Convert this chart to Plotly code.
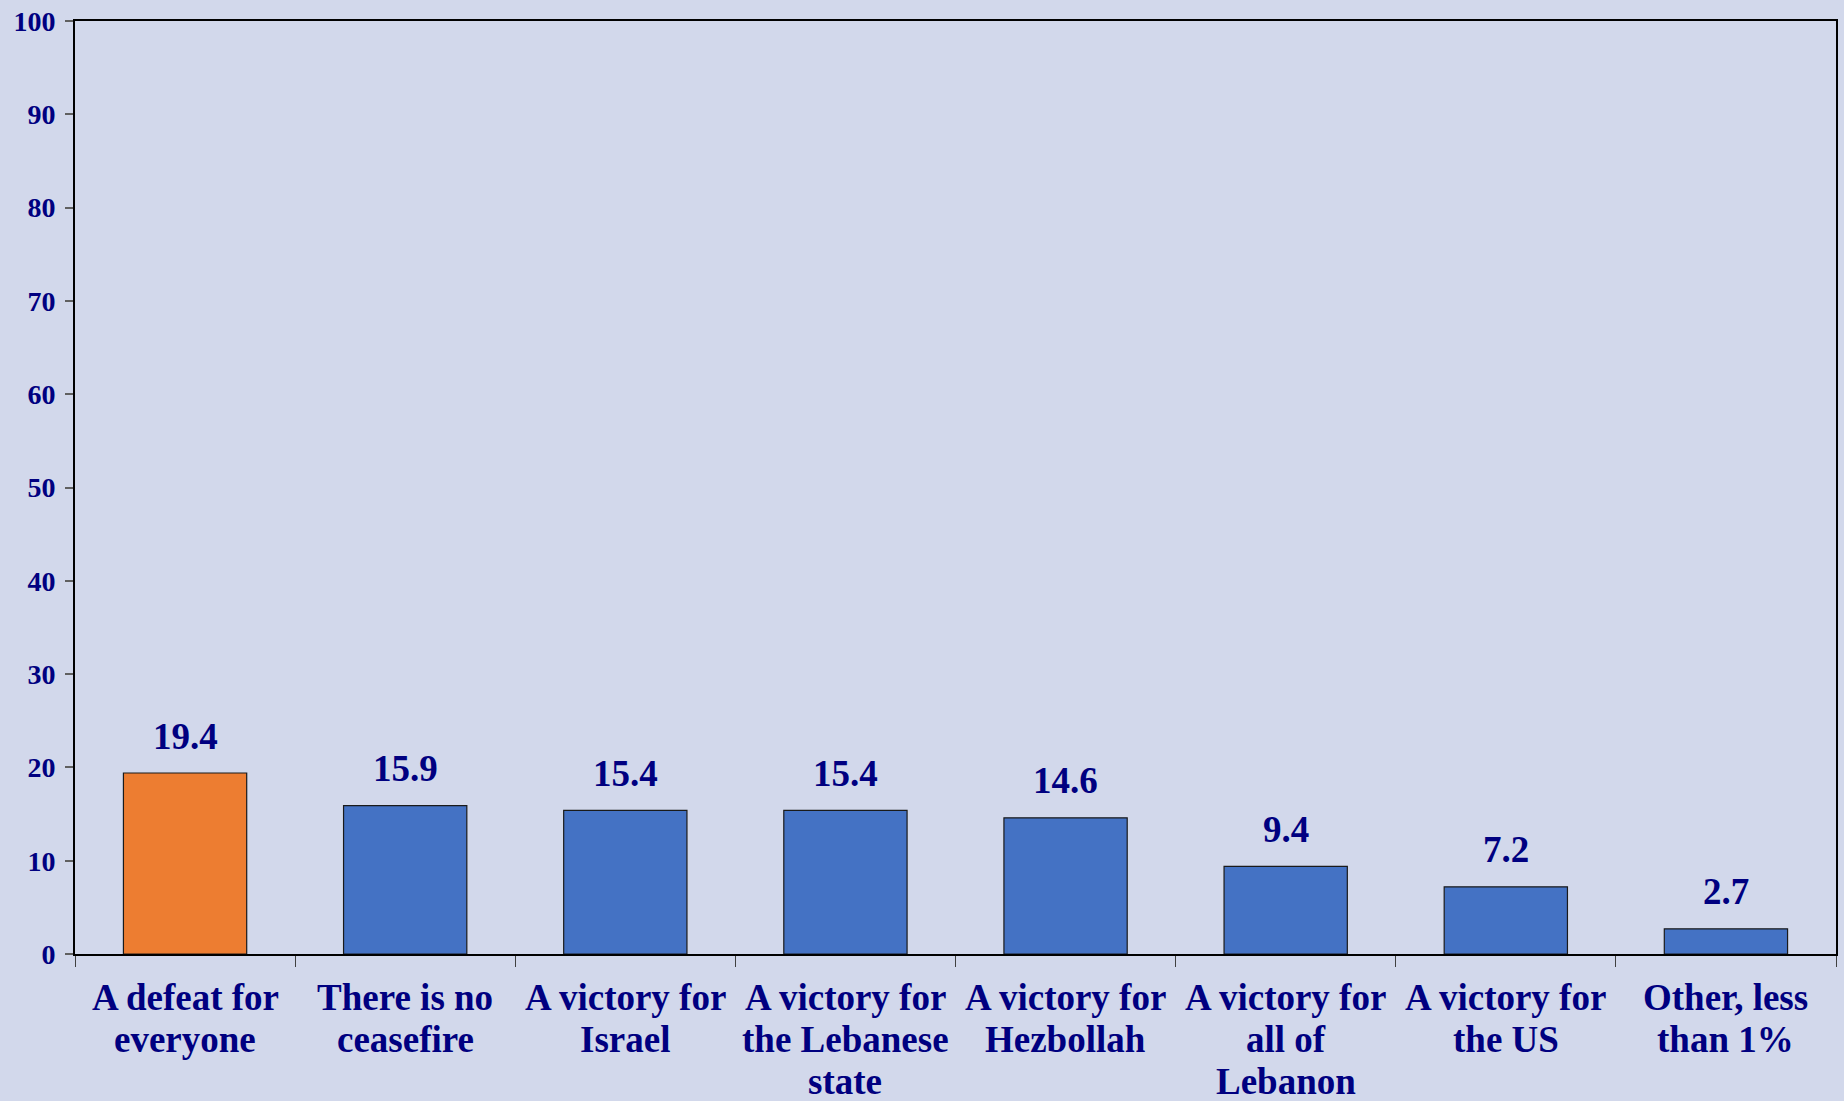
import plotly.graph_objects as go

categories = [
    "A defeat for everyone",
    "There is no ceasefire",
    "A victory for Israel",
    "A victory for the Lebanese state",
    "A victory for Hezbollah",
    "A victory for all of Lebanon",
    "A victory for the US",
    "Other, less than 1%",
]
label_lines = [
    ["A defeat for", "everyone"],
    ["There is no", "ceasefire"],
    ["A victory for", "Israel"],
    ["A victory for", "the Lebanese", "state"],
    ["A victory for", "Hezbollah"],
    ["A victory for", "all of", "Lebanon"],
    ["A victory for", "the US"],
    ["Other, less", "than 1%"],
]
values = [19.4, 15.9, 15.4, 15.4, 14.6, 9.4, 7.2, 2.7]
bar_colors = ["#ED7D31"] + ["#4472C4"] * 7
y_ticks = [0, 10, 20, 30, 40, 50, 60, 70, 80, 90, 100]

NAVY = "#000080"
FONT = "Liberation Serif, Times New Roman, serif"

fig = go.Figure(
    go.Bar(
        x=categories,
        y=values,
        marker=dict(color=bar_colors, line=dict(color="#1a1a1a", width=1.2)),
        cliponaxis=False,
    )
)

annotations = []
for cat, v in zip(categories, values):
    annotations.append(dict(
        x=cat, y=v, xref="x", yref="y", text=f"<b>{v:.1f}</b>",
        showarrow=False, yanchor="middle", yshift=37,
        font=dict(family=FONT, size=37, color=NAVY),
    ))
for cat, lines in zip(categories, label_lines):
    for i, line in enumerate(lines):
        annotations.append(dict(
            x=cat, y=0, xref="x", yref="paper", text=f"<b>{line}</b>",
            showarrow=False, yanchor="middle", yshift=-43 - 42 * i,
            font=dict(family=FONT, size=37, color=NAVY),
        ))

fig.update_layout(
    width=1844,
    height=1101,
    paper_bgcolor="#D2D8EB",
    plot_bgcolor="#D2D8EB",
    margin=dict(l=75, r=6, t=17, b=147),
    bargap=0.44,
    showlegend=False,
    font=dict(family=FONT, color=NAVY),
    annotations=annotations,
)

fig.update_xaxes(
    showline=True,
    linecolor="black",
    linewidth=2,
    mirror=True,
    ticks="outside",
    tickson="boundaries",
    ticklen=11,
    tickcolor="#404040",
    tickwidth=1,
    showticklabels=False,
    showgrid=False,
)
fig.update_yaxes(
    range=[0, 100],
    tickvals=y_ticks,
    showline=True,
    linecolor="black",
    linewidth=2,
    mirror=True,
    ticks="outside",
    ticklen=8,
    tickcolor="#606060",
    tickwidth=2,
    tickfont=dict(family=FONT, size=28, color=NAVY, weight="bold"),
    ticklabelstandoff=4,
    showgrid=False,
    zeroline=False,
)

fig.write_html(
    "out.html",
    config={"displayModeBar": False},
    post_script="document.body.style.margin='0';document.body.style.padding='0';document.body.style.overflow='hidden';",
)
